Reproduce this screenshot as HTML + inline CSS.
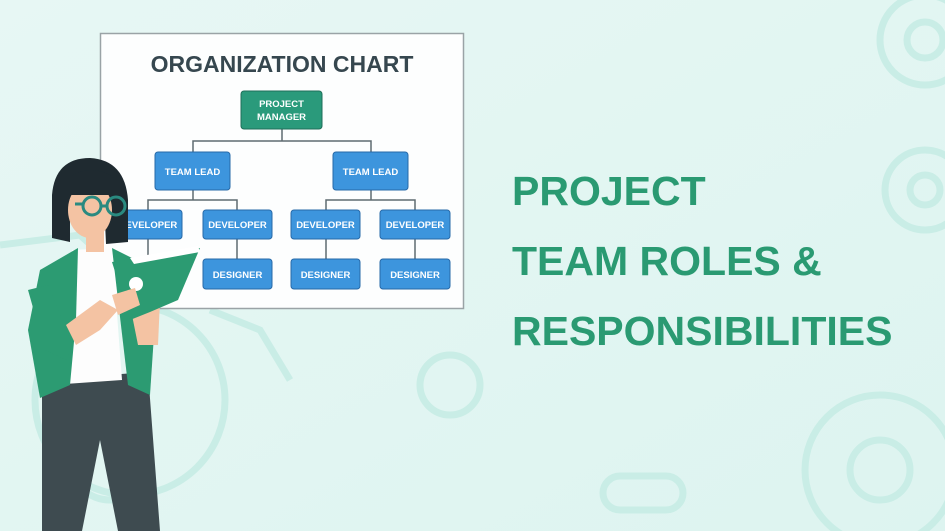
<!DOCTYPE html>
<html><head><meta charset="utf-8"><style>
html,body{margin:0;padding:0;width:945px;height:531px;overflow:hidden;background:#e8f8f5}
svg{display:block}
text{font-family:"Liberation Sans",sans-serif;font-weight:bold}
</style></head><body>
<svg width="945" height="531" viewBox="0 0 945 531" xmlns="http://www.w3.org/2000/svg">
<defs>
<linearGradient id="bg" x1="0" y1="0" x2="1" y2="1"><stop offset="0" stop-color="#e7f7f4"/><stop offset="1" stop-color="#ddf4f0"/></linearGradient>
</defs>
<rect width="945" height="531" fill="url(#bg)"/>
<g fill="none" stroke="#c9ede6" stroke-width="7">
<circle cx="925" cy="40" r="45"/>
<circle cx="925" cy="40" r="18"/>
<circle cx="925" cy="190" r="40"/>
<circle cx="925" cy="190" r="15"/>
<circle cx="880" cy="470" r="75"/>
<circle cx="880" cy="470" r="30"/>
<circle cx="450" cy="385" r="30"/>
<rect x="603" y="476" width="80" height="34" rx="17"/>
<circle cx="130" cy="400" r="95"/>
<circle cx="110" cy="460" r="40"/>
<path d="M0 245 L80 235 L140 290"/>
<path d="M210 310 L260 330 L290 380"/>
</g>
<rect x="100.5" y="33.5" width="363" height="275" fill="#fdfefe" stroke="#9aa3a6" stroke-width="1.5"/>
<text x="282" y="72" text-anchor="middle" font-size="23" fill="#36474f">ORGANIZATION CHART</text>
<g stroke="#5f6b70" stroke-width="1.5" fill="none">
<path d="M282 129 V141 M193 152 V141 H371 V152"/>
<path d="M193 190 V200 M148 210 V200 H237 V210"/>
<path d="M371 190 V200 M326 210 V200 H415 V210"/>
<path d="M148 239 V259 M237 239 V259 M326 239 V259 M415 239 V259"/>
</g>
<rect x="241" y="91" width="81" height="38" rx="3" fill="#2a9a7b" stroke="#1f6f5a"/>
<text x="281.5" y="107" text-anchor="middle" font-size="9.5" fill="#fff">PROJECT</text>
<text x="281.5" y="120" text-anchor="middle" font-size="9.5" fill="#fff">MANAGER</text>
<g fill="#3d95dd" stroke="#2769a8">
<rect x="155" y="152" width="75" height="38" rx="3"/>
<rect x="333" y="152" width="75" height="38" rx="3"/>
<rect x="114" y="210" width="68" height="29" rx="3"/>
<rect x="203" y="210" width="69" height="29" rx="3"/>
<rect x="291" y="210" width="69" height="29" rx="3"/>
<rect x="380" y="210" width="70" height="29" rx="3"/>
<rect x="203" y="259" width="69" height="30" rx="3"/>
<rect x="291" y="259" width="69" height="30" rx="3"/>
<rect x="380" y="259" width="70" height="30" rx="3"/>
</g>
<g fill="#fff" font-size="9.5" text-anchor="middle">
<text x="192.5" y="175">TEAM LEAD</text>
<text x="370.5" y="175">TEAM LEAD</text>
<text x="148" y="228">DEVELOPER</text>
<text x="237.5" y="228">DEVELOPER</text>
<text x="325.5" y="228">DEVELOPER</text>
<text x="415" y="228">DEVELOPER</text>
<text x="237.5" y="278">DESIGNER</text>
<text x="325.5" y="278">DESIGNER</text>
<text x="415" y="278">DESIGNER</text>
</g>
<g>
<path d="M42 380 L148 372 L160 531 L118 531 L100 440 L82 531 L42 531 Z" fill="#3e4b50"/>
<path d="M72 250 L112 248 L122 380 L65 384 Z" fill="#fdfdfd"/>
<path d="M40 270 L78 248 L76 320 L70 385 L40 398 L28 330 Z" fill="#2c9b72"/>
<path d="M112 248 L140 262 L155 320 L150 395 L128 385 L118 300 Z" fill="#2c9b72"/>
<path d="M28 290 L48 285 L72 345 L66 360 L45 350 Z" fill="#2c9b72"/>
<path d="M66 325 L100 300 L118 310 L100 330 L76 345 Z" fill="#f4c3a3"/>
<path d="M130 305 L160 300 L158 345 L138 345 Z" fill="#f4c3a3"/>
<rect x="86" y="228" width="18" height="24" fill="#f4c3a3"/>
<path d="M52 195 Q55 158 90 158 Q125 160 128 200 L128 242 L106 244 L104 200 L70 198 L70 242 L52 238 Z" fill="#1f2a30"/>
<ellipse cx="90" cy="210" rx="22" ry="28" fill="#f4c3a3"/>
<path d="M66 180 Q90 160 118 180 L118 195 L66 195 Z" fill="#1f2a30"/>
<g fill="none" stroke="#2a8a80" stroke-width="3"><circle cx="92" cy="206" r="9"/><circle cx="116" cy="206" r="9"/><path d="M75 204 H83 M101 206 H107"/></g>
<path d="M112 262 L200 248 L178 300 L150 312 L130 320 Z" fill="#2c9b72"/>
<path d="M130 258 L198 246 L200 252 L134 264 Z" fill="#fff"/>
<circle cx="136" cy="284" r="7" fill="#fff"/>
<path d="M112 295 L135 288 L140 305 L118 315 Z" fill="#f4c3a3"/>
</g>
<g fill="#2a9a72" font-size="41">
<text x="512" y="205">PROJECT</text>
<text x="512" y="275">TEAM ROLES &amp;</text>
<text x="512" y="345">RESPONSIBILITIES</text>
</g>
</svg>
</body></html>
